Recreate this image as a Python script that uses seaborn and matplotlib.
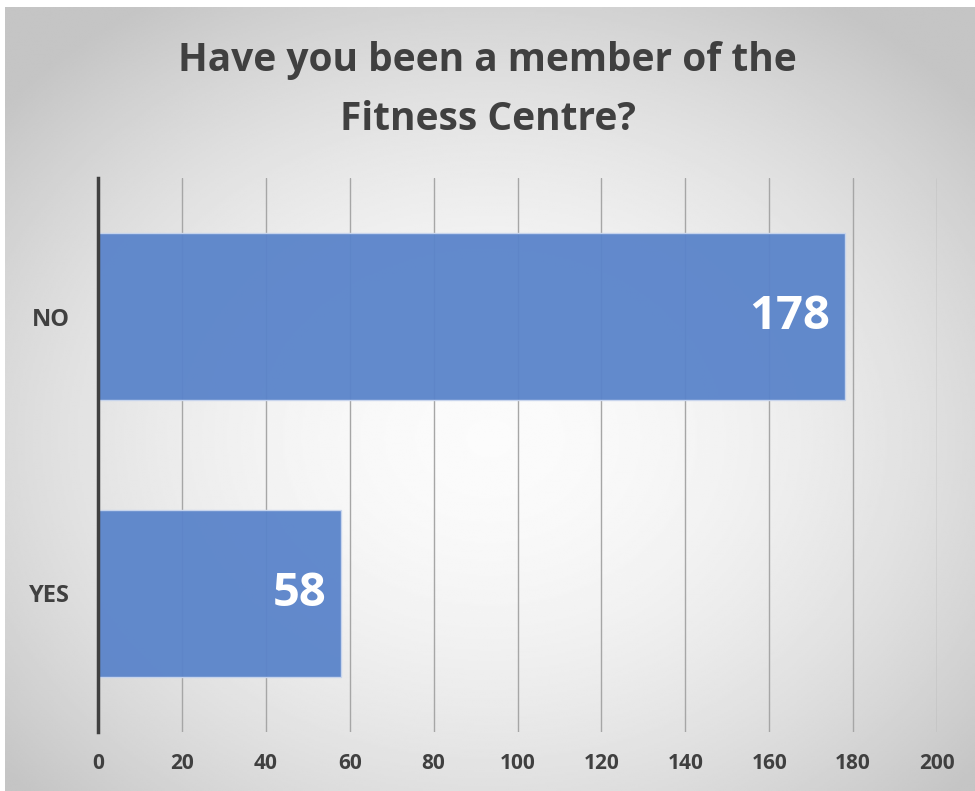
import numpy as np
import pandas as pd
import matplotlib
matplotlib.use("Agg")
import matplotlib.pyplot as plt
import seaborn as sns

# data
answers = ["NO", "YES"]
counts = [178, 58]
x_ticks = [0, 20, 40, 60, 80, 100, 120, 140, 160, 180, 200]

df = pd.DataFrame({"answer": answers, "count": counts})

sns.set_theme(style="white")
plt.rcParams["font.family"] = ["Open Sans", "DejaVu Sans"]

fig = plt.figure(figsize=(9.75, 7.91), dpi=100)
fig.patch.set_facecolor("white")

# radial gradient background of the chart area
bg = fig.add_axes([5 / 975, 0, 970 / 975, 1 - 7 / 791], zorder=0)
yy, xx = np.mgrid[0:1:400j, 0:1:500j]
r = np.sqrt(((xx - 0.5) / 0.75) ** 2 + ((yy - 0.55) / 0.75) ** 2)
shade = np.clip(0.985 - 0.27 * r ** 1.8, 0.77, 0.985)
bg.imshow(shade, cmap="gray", vmin=0, vmax=1, aspect="auto",
          extent=[0, 1, 0, 1], interpolation="bilinear")
bg.axis("off")

ax = fig.add_axes([98 / 975, 1 - 732 / 791, 839 / 975, 554 / 791], zorder=1)
ax.set_facecolor("none")

sns.barplot(data=df, x="count", y="answer", orient="h", ax=ax,
            color="#5a84ca", alpha=0.95, width=0.6, saturation=1,
            edgecolor="#c9d6ee", linewidth=1, zorder=3)

ax.set_xlim(0, 200)
ax.set_ylim(1.5, -0.5)
ax.set_xticks(x_ticks)
ax.set_xticklabels([str(t) for t in x_ticks],
                   fontdict={"fontsize": 15, "fontweight": "bold", "color": "#404040"})
ax.set_yticks(range(len(answers)))
ax.set_yticklabels(answers,
                   fontdict={"fontsize": 17, "fontweight": "bold", "color": "#404040"})
ax.grid(axis="x", color="#a6a6a6", linewidth=1, zorder=0)
ax.set_axisbelow(True)
for s in ["top", "right", "bottom"]:
    ax.spines[s].set_visible(False)
ax.spines["left"].set_color("#404040")
ax.spines["left"].set_linewidth(2.5)
ax.spines["left"].set_zorder(4)
ax.tick_params(axis="both", length=0)
ax.tick_params(axis="x", pad=15)
ax.tick_params(axis="y", pad=20)
ax.set_xlabel("")
ax.set_ylabel("")

for i, v in enumerate(counts):
    ax.text(v - 3.5, i, str(v), ha="right", va="center", color="white",
            fontsize=34, fontweight="bold", zorder=5)

fig.text(0.5, 1 - 60 / 791, "Have you been a member of the", ha="center",
         va="center", fontsize=28, fontweight="bold", color="#404040")
fig.text(0.5, 1 - 119 / 791, "Fitness Centre?", ha="center",
         va="center", fontsize=28, fontweight="bold", color="#404040")

fig.savefig("out.png", dpi=100)
